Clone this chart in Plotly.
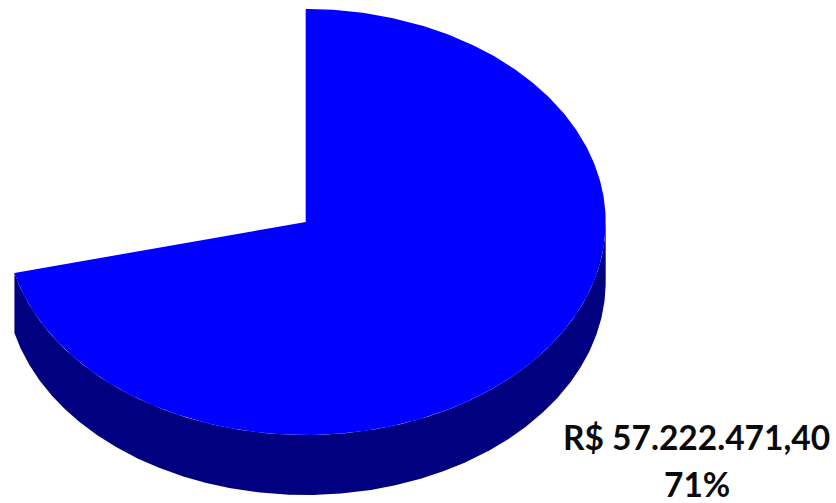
import numpy as np
import plotly.graph_objects as go

# Data
categories = ["Slice A", "Other"]
values = [57222471.40, 23200000.00]
label_lines = ["R$ 57.222.471,40", "71%"]

# Pie geometry, in pixels of the 836x503 page
W, H = 836, 503
CX, CY, RX, RY, DEPTH = 305.7, 222.0, 300.0, 213.0, 60.0
TOP_COLOR = "#0000FF"
SIDE_COLOR = "#000080"

share = values[0] / sum(values)
end = 2 * np.pi * share


def rim(a, b, dy=0.0, n=400):
    t = np.linspace(a, b, n)
    return CX + RX * np.sin(t), CY - RY * np.cos(t) + dy


# Side wall: the front-facing part of the rim, from 3 o'clock round to the slice's end
x_up, y_up = rim(np.pi / 2, end)
x_lo, y_lo = rim(end, np.pi / 2, DEPTH)
side_x = np.concatenate([x_up, x_lo, x_up[:1]])
side_y = np.concatenate([y_up, y_lo, y_up[:1]])

# Top face
x_top, y_top = rim(0, end)
top_x = np.concatenate([[CX], x_top, [CX]])
top_y = np.concatenate([[CY], y_top, [CY]])

fig = go.Figure()
fig.add_trace(go.Scatter(
    x=side_x, y=side_y, mode="lines", fill="toself", fillcolor=SIDE_COLOR,
    line=dict(color=SIDE_COLOR, width=0), hoverinfo="skip", showlegend=False,
))
fig.add_trace(go.Scatter(
    x=top_x, y=top_y, mode="lines", fill="toself", fillcolor=TOP_COLOR,
    line=dict(color=TOP_COLOR, width=0), name=categories[0], showlegend=False,
))

for text, ypos in zip(label_lines, [437, 484]):
    fig.add_annotation(
        x=696.5, y=ypos, xref="x", yref="y", text=f"<b>{text}</b>", showarrow=False,
        font=dict(family="Lato", size=33.5, color="#0a0a0a"),
        xanchor="center", yanchor="middle",
    )

fig.update_layout(
    width=W, height=H, autosize=False,
    margin=dict(l=0, r=0, t=0, b=0),
    paper_bgcolor="white", plot_bgcolor="white",
    xaxis=dict(range=[0, W], visible=False, fixedrange=True),
    yaxis=dict(range=[H, 0], visible=False, fixedrange=True),
)
fig.write_html(
    "out.html",
    config={"displayModeBar": False},
    post_script="document.body.style.margin='0';document.body.style.overflow='hidden';",
)
